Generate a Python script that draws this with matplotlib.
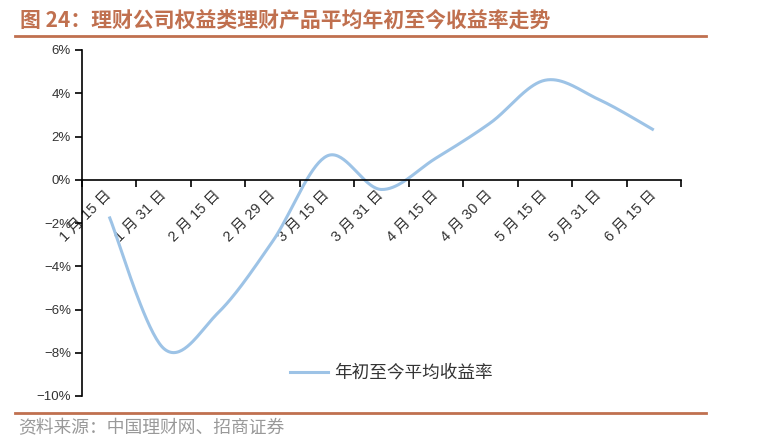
import numpy as np
import matplotlib
matplotlib.use("Agg")
import matplotlib.pyplot as plt
from matplotlib.lines import Line2D

plt.rcParams['font.family'] = ['Noto Sans CJK SC', 'DejaVu Sans']
plt.rcParams['axes.unicode_minus'] = True

# data
dates = ['1 月 15 日', '1 月 31 日', '2 月 15 日', '2 月 29 日', '3 月 15 日', '3 月 31 日',
         '4 月 15 日', '4 月 30 日', '5 月 15 日', '5 月 31 日', '6 月 15 日']
ytd_return = [-1.7, -7.8, -6.15, -2.85, 1.1, -0.45, 1.0, 2.63, 4.6, 3.7, 2.3]
yticks = [-10, -8, -6, -4, -2, 0, 2, 4, 6]

title = '图 24：理财公司权益类理财产品平均年初至今收益率走势'
source = '资料来源：中国理财网、招商证券'
series_name = '年初至今平均收益率'

brown = '#C0704F'
blue = '#9DC3E6'
text_c = '#333333'


def excel_smooth(xs, ys, n=40):
    # bezier smoothing like excel's "smoothed line"
    p = np.column_stack([xs, ys]).astype(float)
    p_ext = np.vstack([p[0], p, p[-1]])
    out = []
    t = np.linspace(0, 1, n)[:, None]
    for i in range(len(p) - 1):
        p0, p1, p2, p3 = p_ext[i], p_ext[i + 1], p_ext[i + 2], p_ext[i + 3]
        c1 = p1 + (p2 - p0) / 6
        c2 = p2 - (p3 - p1) / 6
        seg = ((1 - t) ** 3) * p1 + 3 * ((1 - t) ** 2) * t * c1 + 3 * (1 - t) * t ** 2 * c2 + t ** 3 * p2
        out.append(seg if i == 0 else seg[1:])
    out = np.vstack(out)
    return out[:, 0], out[:, 1]


fig = plt.figure(figsize=(7.61, 4.38), dpi=100)
ax = fig.add_axes([82 / 761, 1 - 396 / 438, (681 - 82) / 761, (396 - 50) / 438])

x = np.arange(len(dates)) + 0.5
sx, sy = excel_smooth(x, ytd_return)
ax.plot(sx, sy, color=blue, linewidth=2.2, solid_capstyle='butt')

ax.set_xlim(0, len(dates))
ax.set_ylim(-10, 6)

# axes styling
ax.spines['top'].set_visible(False)
ax.spines['right'].set_visible(False)
ax.spines['bottom'].set_position(('data', 0))
for s in ('left', 'bottom'):
    ax.spines[s].set_color('black')
    ax.spines[s].set_linewidth(1.2)

ax.set_yticks(yticks)
ax.set_yticklabels([f'{v}%'.replace('-', '\u2212') for v in yticks],
                   family='Liberation Sans', fontsize=9.5, color=text_c)
ax.tick_params(axis='y', direction='out', length=5, width=1.2, pad=3)

ax.set_xticks(np.arange(len(dates) + 1))
ax.set_xticklabels([])
ax.tick_params(axis='x', which='major', direction='out', length=5, width=1.2)
ax.set_xticks(x, minor=True)
ax.set_xticklabels(dates, minor=True, rotation=45, ha='right', va='center',
                   rotation_mode='anchor', fontsize=10.5, color=text_c,
                   family=['Liberation Sans', 'Noto Sans CJK SC'])
ax.tick_params(axis='x', which='minor', length=0, pad=9)

# legend
leg_line = Line2D([], [], color=blue, linewidth=2.2)
ax.legend([leg_line], [series_name], loc='lower left', bbox_to_anchor=(0.32, -0.005),
          frameon=False, fontsize=12.7, handlelength=2.2, handletextpad=0.35,
          labelcolor=text_c)

# title and source
fig.text(20 / 761, 1 - 21 / 438, title, fontsize=15, fontweight='bold',
         color=brown, va='center', ha='left')
fig.add_artist(Line2D([15 / 761, 706 / 761], [1 - 36 / 438, 1 - 36 / 438],
                      color=brown, linewidth=2))
fig.add_artist(Line2D([15 / 761, 706 / 761], [1 - 413 / 438, 1 - 413 / 438],
                      color=brown, linewidth=2))
fig.text(18 / 761, 1 - 428 / 438, source, fontsize=12.8, color='#999999',
         va='center', ha='left')

fig.savefig('out.png', dpi=100)
